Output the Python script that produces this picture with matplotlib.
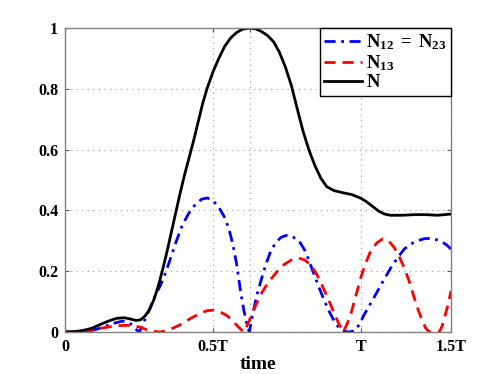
import matplotlib
matplotlib.use("Agg")
import matplotlib.pyplot as plt

plt.rcParams['font.family'] = ['Liberation Serif', 'DejaVu Serif']
plt.rcParams['font.weight'] = 'bold'
plt.rcParams['mathtext.fontset'] = 'custom'
plt.rcParams['mathtext.rm'] = 'Liberation Serif'
plt.rcParams['mathtext.bf'] = 'Liberation Serif:bold'

# time axis in units of T
t_n12 = [0, 0.05, 0.08, 0.11, 0.14, 0.17, 0.195, 0.215, 0.23, 0.243, 0.252, 0.262,
         0.275, 0.29, 0.305, 0.322, 0.34, 0.356, 0.375, 0.396, 0.418, 0.441, 0.462,
         0.481, 0.5, 0.52, 0.538, 0.554, 0.567, 0.58, 0.594, 0.605, 0.615, 0.623,
         0.635, 0.648, 0.662, 0.68, 0.696, 0.713, 0.73, 0.748, 0.765, 0.791, 0.81,
         0.825, 0.842, 0.859, 0.876, 0.893, 0.91, 0.927, 0.945, 0.96, 0.98, 0.995,
         1.012, 1.035, 1.057, 1.08, 1.102, 1.125, 1.147, 1.17, 1.192, 1.215, 1.237,
         1.258, 1.277, 1.292, 1.305]
n12 = [0, 0, 0.003, 0.01, 0.02, 0.03, 0.036, 0.032, 0.02, 0.006, 0.0, 0.025,
       0.05, 0.085, 0.12, 0.152, 0.195, 0.24, 0.295, 0.35, 0.39, 0.42, 0.437,
       0.441, 0.433, 0.41, 0.38, 0.34, 0.29, 0.225, 0.13, 0.07, 0.025, 0.0,
       0.06, 0.12, 0.167, 0.225, 0.267, 0.295, 0.311, 0.318, 0.316, 0.3, 0.27,
       0.234, 0.19, 0.146, 0.105, 0.068, 0.036, 0.013, 0.002, 0.0, 0.004, 0.025,
       0.058, 0.097, 0.135, 0.175, 0.212, 0.245, 0.273, 0.29, 0.3, 0.307, 0.308,
       0.303, 0.295, 0.285, 0.273]

t_n13 = [0, 0.06, 0.09, 0.119, 0.15, 0.175, 0.2, 0.225, 0.254, 0.275, 0.3, 0.322,
         0.35, 0.39, 0.425, 0.458, 0.48, 0.503, 0.525, 0.549, 0.568, 0.583, 0.596,
         0.605, 0.615, 0.627, 0.645, 0.662, 0.68, 0.696, 0.72, 0.741, 0.765, 0.791,
         0.81, 0.831, 0.848, 0.864, 0.88, 0.898, 0.913, 0.927, 0.941, 0.953, 0.966,
         0.983, 1.0, 1.017, 1.034, 1.054, 1.074, 1.094, 1.113, 1.13, 1.147, 1.165,
         1.181, 1.195, 1.209, 1.22, 1.232, 1.25, 1.266, 1.275, 1.283, 1.295, 1.305]
n13 = [0, 0, 0.005, 0.012, 0.017, 0.02, 0.022, 0.021, 0.016, 0.008, 0.002, 0.0,
       0.006, 0.024, 0.045, 0.062, 0.07, 0.072, 0.066, 0.053, 0.035, 0.02, 0.007,
       0.0, 0.02, 0.047, 0.088, 0.124, 0.152, 0.174, 0.202, 0.222, 0.237, 0.243,
       0.237, 0.22, 0.195, 0.165, 0.13, 0.09, 0.055, 0.024, 0.0, 0.025, 0.058,
       0.118, 0.179, 0.228, 0.267, 0.293, 0.306, 0.3, 0.278, 0.248, 0.211, 0.163,
       0.112, 0.07, 0.035, 0.012, 0.0, 0.0, 0.0, 0.02, 0.047, 0.09, 0.135]

t_n = [0, 0.03, 0.06, 0.09, 0.12, 0.15, 0.175, 0.2, 0.22, 0.24, 0.255, 0.27,
       0.285, 0.3, 0.315, 0.33, 0.345, 0.36, 0.375, 0.39, 0.405, 0.42, 0.435,
       0.45, 0.465, 0.48, 0.5, 0.52, 0.54, 0.56, 0.58, 0.6, 0.625, 0.645, 0.665,
       0.685, 0.705, 0.725, 0.745, 0.765, 0.785, 0.805, 0.825, 0.845, 0.865,
       0.885, 0.91, 0.94, 0.97, 1.0, 1.02, 1.04, 1.06, 1.08, 1.1, 1.14, 1.18,
       1.22, 1.26, 1.305]
n_total = [0, 0.001, 0.005, 0.012, 0.025, 0.037, 0.045, 0.047, 0.043, 0.038, 0.04, 0.052,
           0.072, 0.105, 0.15, 0.205, 0.265, 0.33, 0.395, 0.46, 0.52, 0.575, 0.63,
           0.69, 0.75, 0.8, 0.855, 0.9, 0.94, 0.967, 0.985, 0.996, 1.0, 0.997, 0.988,
           0.975, 0.955, 0.92, 0.872, 0.812, 0.735, 0.66, 0.598, 0.547, 0.506,
           0.478, 0.465, 0.458, 0.452, 0.44, 0.428, 0.413, 0.398, 0.388, 0.384, 0.384, 0.386,
           0.386, 0.384, 0.388]

xticks = [0, 0.5, 0.625, 1, 1.305]
xticklabels = ['0', '0.5T', '', 'T', '1.5T']
yticks = [0, 0.2, 0.4, 0.6, 0.8, 1]
yticklabels = ['0', '0.2', '0.4', '0.6', '0.8', '1']

fig = plt.figure(figsize=(4.98, 3.74), dpi=100)
ax = fig.add_axes([65 / 498, 42 / 374, 386 / 498, 304 / 374])

ax.plot(t_n12, n12, color='#0000ff', lw=2, linestyle=(0, (4, 2, 1, 2)),
        label=r'$\mathbf{N_{12}\,=\,N_{23}}$')
ax.plot(t_n13, n13, color='#ff0000', lw=2, linestyle=(0, (4, 2.5)),
        label=r'$\mathbf{N_{13}}$')
ax.plot(t_n, n_total, color='black', lw=2, label=r'$\mathbf{N}$')

ax.set_xlim(0, 1.305)
ax.set_ylim(0, 1)
ax.set_xticks(xticks)
ax.set_xticklabels(xticklabels, fontsize=11.5, fontweight='bold')
ax.set_yticks(yticks)
ax.set_yticklabels(yticklabels, fontsize=11.5, fontweight='bold')
ax.tick_params(direction='in', length=3, color='#555555', top=True, right=True, pad=5)
for s in ax.spines.values():
    s.set_color('#808080')
    s.set_linewidth(1)
ax.grid(True, linestyle=(0, (1, 4)), color='#999999', lw=0.8)
ax.set_xlabel('time', fontsize=14, fontweight='bold', labelpad=1)

leg = ax.legend(loc='upper right', fontsize=13.5, borderaxespad=0, fancybox=False,
                framealpha=1, edgecolor='black', handlelength=2.0, handletextpad=0.2,
                borderpad=0.25, labelspacing=0.05)
leg.get_frame().set_linewidth(1)

plt.savefig('out.png', dpi=100)
plt.close()
